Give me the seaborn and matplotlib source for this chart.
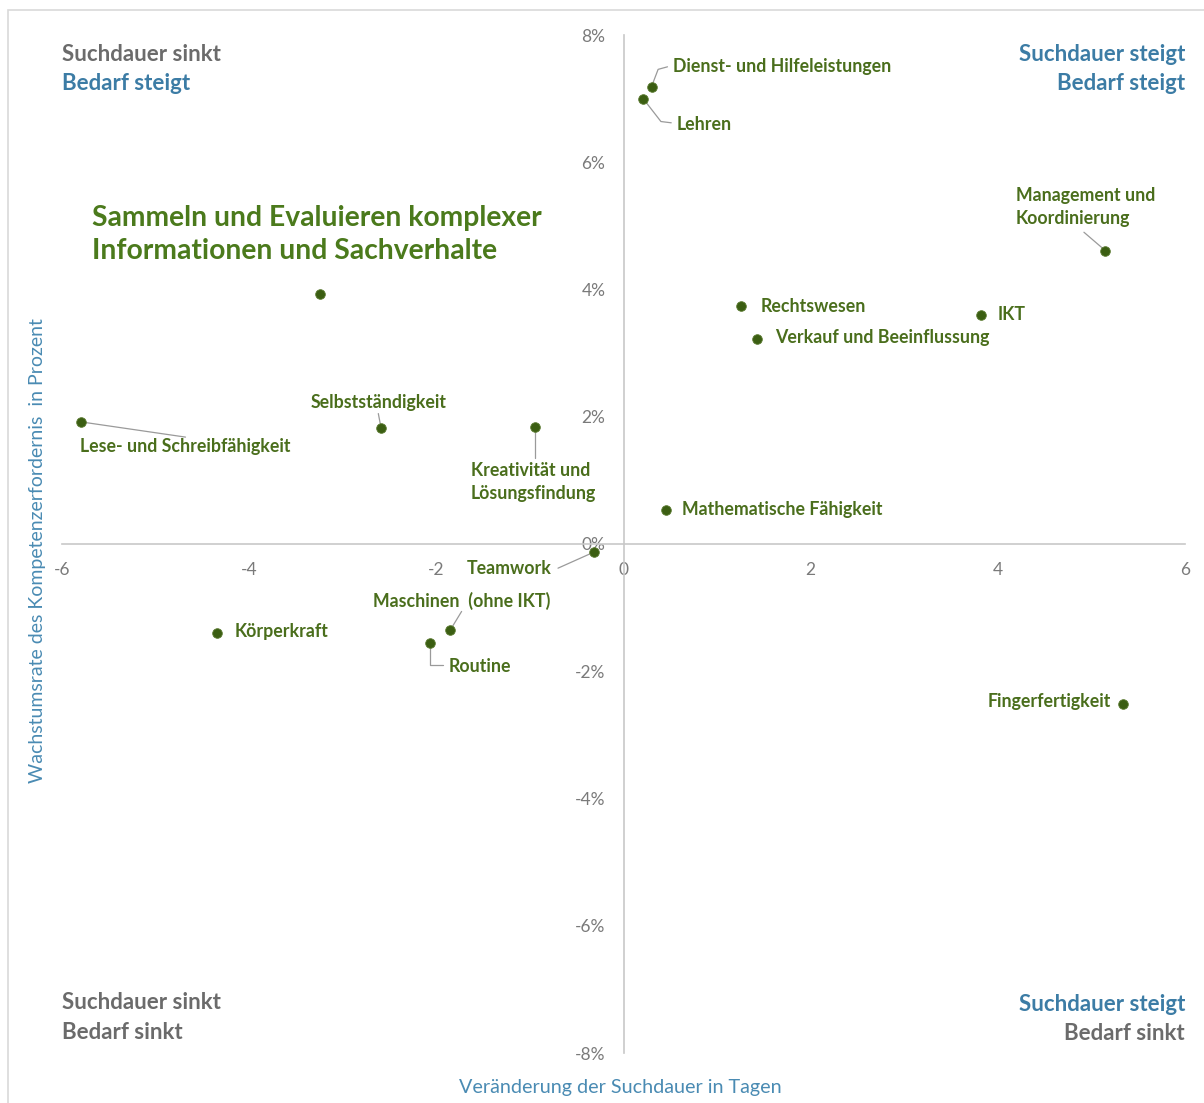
import pandas as pd
import numpy as np
import seaborn as sns
import matplotlib.pyplot as plt
from matplotlib.patches import Rectangle
from matplotlib.ticker import FuncFormatter

# Kompetenzen: Veränderung der Suchdauer (Tage) vs. Wachstumsrate (%)
skills = [
    "Dienst- und Hilfeleistungen", "Lehren", "Management und\nKoordinierung",
    "Sammeln und Evaluieren komplexer\nInformationen und Sachverhalte",
    "Rechtswesen", "IKT", "Verkauf und Beeinflussung",
    "Lese- und Schreibfähigkeit", "Selbstständigkeit",
    "Kreativität und\nLösungsfindung", "Mathematische Fähigkeit", "Teamwork",
    "Maschinen  (ohne IKT)", "Routine", "Körperkraft", "Fingerfertigkeit",
]
suchdauer = [0.30, 0.21, 5.15, -3.24, 1.26, 3.82, 1.43, -5.80, -2.59,
             -0.95, 0.45, -0.32, -1.85, -2.07, -4.34, 5.34]
wachstum = [7.19, 7.00, 4.61, 3.93, 3.74, 3.60, 3.22, 1.92, 1.82,
            1.84, 0.53, -0.13, -1.35, -1.56, -1.40, -2.52]

df = pd.DataFrame({"skill": skills, "x": suchdauer, "y": wachstum})

# label placement: (text x, text y, ha)
label_pos = {
    "Dienst- und Hilfeleistungen": (0.53, 7.50, "left"),
    "Lehren": (0.57, 6.59, "left"),
    "Management und\nKoordinierung": (4.19, 5.30, "left"),
    "Rechtswesen": (1.46, 3.74, "left"),
    "IKT": (4.00, 3.60, "left"),
    "Verkauf und Beeinflussung": (1.62, 3.24, "left"),
    "Lese- und Schreibfähigkeit": (-5.81, 1.53, "left"),
    "Selbstständigkeit": (-2.62, 2.23, "center"),
    "Kreativität und\nLösungsfindung": (-1.63, 0.97, "left"),
    "Mathematische Fähigkeit": (0.63, 0.55, "left"),
    "Teamwork": (-0.77, -0.38, "right"),
    "Maschinen  (ohne IKT)": (-1.73, -0.90, "center"),
    "Routine": (-1.87, -1.92, "left"),
    "Körperkraft": (-4.16, -1.37, "left"),
    "Fingerfertigkeit": (5.21, -2.48, "right"),
}
# leader line bends / end points (after the dot itself)
leader_path = {
    "Dienst- und Hilfeleistungen": [(0.37, 7.46), (0.47, 7.50)],
    "Lehren": [(0.40, 6.64), (0.51, 6.62)],
    "Management und\nKoordinierung": [(4.92, 4.90)],
    "Lese- und Schreibfähigkeit": [(-4.68, 1.68)],
    "Selbstständigkeit": [(-2.62, 2.05)],
    "Kreativität und\nLösungsfindung": [(-0.95, 1.35)],
    "Teamwork": [(-0.70, -0.38)],
    "Maschinen  (ohne IKT)": [(-1.73, -1.06)],
    "Routine": [(-2.07, -1.90), (-1.93, -1.90)],
}

GREEN_DOT = "#3b5e12"
GREEN_TXT = "#4a6e1c"
GREY = "#6b6b6b"
BLUE = "#3c7ca5"
AXIS_BLUE = "#4a8bb3"
SPINE = "#c8c8c8"

sns.set_style("white")
plt.rcParams["font.family"] = ["Lato", "DejaVu Sans"]
plt.rcParams["axes.unicode_minus"] = False

fig = plt.figure(figsize=(12.04, 11.03), dpi=100)
ax = fig.add_axes([62 / 1204, 1 - 1053 / 1103, 1123 / 1204, 1018 / 1103])

sns.scatterplot(data=df, x="x", y="y", ax=ax, color=GREEN_DOT, s=48,
                edgecolor="#5a7a30", linewidth=0.6, zorder=5)

ax.set_xlim(-6, 6)
ax.set_ylim(-8, 8)
ax.set_xticks([-6, -4, -2, 0, 2, 4, 6])
ax.set_yticks([-8, -6, -4, -2, 0, 2, 4, 6, 8])
ax.yaxis.set_major_formatter(FuncFormatter(lambda v, p: f"{v:.0f}%"))

# spines crossing at the origin
for side in ["top", "right"]:
    ax.spines[side].set_visible(False)
ax.spines["left"].set_position(("data", 0))
ax.spines["bottom"].set_position(("data", 0))
ax.spines["left"].set_color(SPINE)
ax.spines["bottom"].set_color(SPINE)
ax.spines["left"].set_linewidth(1.2)
ax.spines["bottom"].set_linewidth(1.2)
ax.tick_params(axis="both", length=0, labelsize=12.5, labelcolor="#7a7a7a")
ax.tick_params(axis="x", pad=13)
ax.tick_params(axis="y", pad=13)
ax.set_xlabel("")
ax.set_ylabel("")

# point labels
for skill, xv, yv in zip(skills, suchdauer, wachstum):
    if skill not in label_pos:
        continue
    tx, ty, ha = label_pos[skill]
    ax.text(tx, ty, skill, ha=ha, va="center", fontsize=12.8, fontweight="bold",
            color=GREEN_TXT, linespacing=1.45, zorder=6)
    if skill in leader_path:
        pts = [(xv, yv)] + leader_path[skill]
        ax.plot([p[0] for p in pts], [p[1] for p in pts], color="#9a9a9a",
                lw=0.9, zorder=4)

# highlighted skill
ax.text(-5.68, 4.86, skills[3], ha="left", va="center", fontsize=20.3,
        fontweight="bold", color="#4b7a1c", linespacing=1.32)

# quadrant captions
qfs = 16
ax.text(-6, 7.69, "Suchdauer sinkt", ha="left", va="center", fontsize=qfs,
        fontweight="bold", color=GREY)
ax.text(-6, 7.23, "Bedarf steigt", ha="left", va="center", fontsize=qfs,
        fontweight="bold", color=BLUE)
ax.text(6, 7.69, "Suchdauer steigt", ha="right", va="center", fontsize=qfs,
        fontweight="bold", color=BLUE)
ax.text(6, 7.23, "Bedarf steigt", ha="right", va="center", fontsize=qfs,
        fontweight="bold", color=BLUE)
ax.text(-6, -7.21, "Suchdauer sinkt", ha="left", va="center", fontsize=qfs,
        fontweight="bold", color=GREY)
ax.text(-6, -7.68, "Bedarf sinkt", ha="left", va="center", fontsize=qfs,
        fontweight="bold", color=GREY)
ax.text(6, -7.24, "Suchdauer steigt", ha="right", va="center", fontsize=qfs,
        fontweight="bold", color=BLUE)
ax.text(6, -7.70, "Bedarf sinkt", ha="right", va="center", fontsize=qfs,
        fontweight="bold", color=GREY)

# axis titles
fig.text(620 / 1204, 1 - 1087 / 1103, "Veränderung der Suchdauer in Tagen",
         ha="center", va="center", fontsize=14.2, color=AXIS_BLUE)
fig.text(38 / 1204, 1 - 551 / 1103,
         "Wachstumsrate des Kompetenzerfordernis  in Prozent",
         ha="center", va="center", rotation=90, fontsize=14, color=AXIS_BLUE)

# thin frame around the chart
fig.patches.append(Rectangle((8 / 1204, -0.01), 1.02, 1 - 10 / 1103 + 0.01,
                             transform=fig.transFigure, fill=False,
                             edgecolor="#d9d9d9", lw=1.2))

fig.savefig("out.png", dpi=100)
